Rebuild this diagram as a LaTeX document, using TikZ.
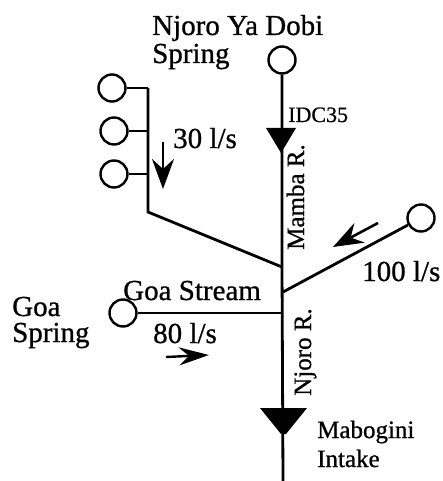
\documentclass[tikz,border=0pt]{standalone}
\usepackage{fontspec}
\setmainfont{Liberation Serif}[FakeBold=0.8]
\usetikzlibrary{arrows.meta}
\begin{document}
\begin{tikzpicture}[x=1pt,y=-1pt,
  spring/.style={circle,draw,line width=2.4pt,minimum size=27pt,inner sep=0pt},
  river/.style={line width=2.8pt},
  flow/.style={line width=2.6pt,-{Stealth[length=30pt,width=22pt,inset=10pt]}},
  big/.style={font=\fontsize{29}{32}\selectfont,inner sep=0pt},
  mid/.style={font=\fontsize{25}{28}\selectfont,inner sep=0pt},
  small/.style={font=\fontsize{22}{24}\selectfont,inner sep=0pt}]
\useasboundingbox (0,0) rectangle (442,481);
% springs
\node[spring] (top) at (282,60) {};
\node[spring] (l1) at (112,88) {};
\node[spring] (l2) at (114,131) {};
\node[spring] (l3) at (114,174) {};
\node[spring] (right) at (421,218) {};
\node[spring] (goa) at (123,313) {};
% junction points
\coordinate (c1) at (148,88);
\coordinate (c2) at (148,131);
\coordinate (c3) at (148,174);
\coordinate (cb) at (148,212);
\coordinate (j1) at (282,267);
\coordinate (j2) at (283,292);
\coordinate (j3) at (283,313);
\coordinate (bot) at (283,481);
% rivers
\draw[river] (top) -- (j1) -- (bot);
\draw[river] (l1) -- (c1);
\draw[river] (l2) -- (c2);
\draw[river] (l3) -- (c3);
\draw[river] (c1) -- (cb) -- (j1);
\draw[river] (right) -- (j2);
\draw[line width=2.2pt] (goa) -- (j3);
% triangles
\fill (266,128) -- (296,128) -- (281,153) -- cycle;
\fill (260,408) -- (307,408) -- (286,434) -- (281,434) -- cycle;
% flow arrows
\coordinate (a1s) at (163,142); \coordinate (a1e) at (163,189);
\coordinate (a2s) at (378,223); \coordinate (a2e) at (333,247);
\coordinate (a3s) at (166,357); \coordinate (a3e) at (209,355);
\draw[flow] (a1s) -- (a1e);
\draw[flow] (a2s) -- (a2e);
\draw[line width=2.4pt,-{Stealth[length=30pt,width=18pt,inset=10pt]}] (a3s) -- (a3e);
% labels
\node[big,anchor=base west] (t1) at (152,35) {Njoro Ya Dobi};
\node[big,anchor=base west] (t2) at (152,63) {Spring};
\node[small,anchor=base west] (t3) at (288,122) {IDC35};
\node[big,anchor=base west] (t4) at (173,148) {30 l/s};
\node[mid,anchor=base,rotate=90] (t5) at (304,197) {Mamba R.};
\node[big,anchor=base west] (t6) at (362,281) {100 l/s};
\node[big,anchor=base west] (t7) at (123,300) {Goa Stream};
\node[big,anchor=base west] (t8) at (12,316) {Goa};
\node[big,anchor=base west] (t9) at (12,342) {Spring};
\node[big,anchor=base west] (t10) at (153,343) {80 l/s};
\node[mid,anchor=base,rotate=90] (t11) at (311,352) {Njoro R.};
\node[mid,anchor=base west] (t12) at (317,438) {Mabogini};
\node[mid,anchor=base west] (t13) at (317,467) {Intake};
\end{tikzpicture}
\end{document}
